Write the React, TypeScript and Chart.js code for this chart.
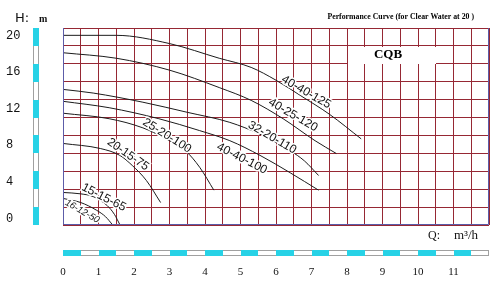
import React, { useEffect, useRef } from "react";
import { Chart, registerables } from "chart.js";

Chart.register(...registerables);

// ---- data (Q in m3/h, H in m) ----
const models = ["40-40-125", "40-25-120", "32-20-110", "40-40-100", "25-20-100", "20-15-75", "15-15-65", "16-12-50"];

const q_40_40_125 = [0, 1.5, 3, 4.4, 5.3, 6, 6.7, 7.5, 8.4];
const h_40_40_125 = [20, 20, 19.1, 17.5, 16.5, 15.1, 13.4, 11.4, 8.7];

const q_40_25_120 = [0, 1.5, 3, 4.4, 5.3, 6.2, 7.1, 7.7];
const h_40_25_120 = [18.1, 17.5, 16.2, 14.3, 12.9, 10.9, 8.5, 7.1];

const q_32_20_110 = [0, 0.85, 2.25, 3.5, 4.7, 5.55, 6.4, 6.8, 7.2];
const h_32_20_110 = [14.1, 13.7, 12.7, 11.6, 10.5, 9.2, 7.4, 6.3, 4.7];

const q_40_40_100 = [0, 1.3, 2.7, 3.85, 4.7, 5.55, 6.4, 7.2];
const h_40_40_100 = [12.8, 12.1, 10.9, 9.6, 8.5, 6.9, 5.0, 3.1];

const q_25_20_100 = [0, 1.3, 2.25, 2.85, 3.45, 3.85, 4.25];
const h_25_20_100 = [11.5, 10.9, 9.9, 8.8, 7.4, 5.6, 3.1];

const q_20_15_75 = [0, 1.05, 1.6, 1.95, 2.35, 2.75];
const h_20_15_75 = [8.2, 7.65, 6.9, 5.8, 4.15, 1.75];

const q_15_15_65 = [0, 0.5, 0.85, 1.25, 1.45, 1.6];
const h_15_15_65 = [2.85, 2.7, 2.4, 1.4, 0.45, -0.65];

const q_16_12_50 = [0, 0.5, 0.95, 1.2, 1.4];
const h_16_12_50 = [2.2, 1.75, 0.9, 0.2, -0.7];

const flowTicks = [0, 1, 2, 3, 4, 5, 6, 7, 8, 9, 10, 11];
const headTicks = [0, 4, 8, 12, 16, 20];

// label anchors in data coordinates (Q, H) and rotation
const labelQ = [6.85, 6.48, 5.89, 5.04, 2.93, 1.83, 1.15, 0.54];
const labelH = [13.8, 11.3, 8.85, 6.55, 9.05, 7.0, 2.3, 0.78];
const labelAngle = [30, 30, 30, 27, 32, 35, 27, 30];

const chartTitle = "Performance Curve (for Clear Water at 20 )";
const brand = "CQB";
const yUnit = ["H:", "m"];
const xUnit = ["Q:", "m³/h"];

const GRID = "rgb(150,40,52)";
const BORDER = "#5c5ca8";
const CYAN = "#27d2e6";
const CURVE = "#1c1c1c";

const series = [
  [q_40_40_125, h_40_40_125],
  [q_40_25_120, h_40_25_120],
  [q_32_20_110, h_32_20_110],
  [q_40_40_100, h_40_40_100],
  [q_25_20_100, h_25_20_100],
  [q_20_15_75, h_20_15_75],
  [q_15_15_65, h_15_15_65],
  [q_16_12_50, h_16_12_50],
];

const decor = {
  id: "decor",
  beforeDatasetsDraw(chart: any) {
    const { ctx, scales } = chart;
    const xs = scales.x;
    const yg = scales.yg;
    // white box behind brand name
    const x0 = Math.round(xs.getPixelForValue(8)) + 1;
    const x1 = Math.round(xs.getPixelForValue(10.5));
    const y0 = Math.round(yg.getPixelForValue(10)) + 1;
    const y1 = Math.round(yg.getPixelForValue(9));
    ctx.save();
    ctx.fillStyle = "#fff";
    ctx.fillRect(x0, y0, x1 - x0, y1 - y0);
    ctx.restore();
  },
  afterDatasetsDraw(chart: any) {
    const { ctx, scales, chartArea } = chart;
    const xs = scales.x;
    const ys = scales.y;
    const yg = scales.yg;
    const L = Math.round(chartArea.left) + 0.5;
    const R = Math.round(chartArea.right) - 0.5;
    const B = Math.round(chartArea.bottom) - 0.5;
    const T = Math.round(chartArea.top);
    ctx.save();

    // curve labels
    models.forEach((name, i) => {
      const px = xs.getPixelForValue(labelQ[i]);
      const py = ys.getPixelForValue(labelH[i]);
      ctx.save();
      ctx.translate(px, py);
      ctx.rotate((labelAngle[i] * Math.PI) / 180);
      ctx.font = i === 7 ? "italic 9.5px 'Liberation Sans'" : "12px 'Liberation Sans'";
      ctx.textAlign = "center";
      ctx.textBaseline = "middle";
      ctx.lineWidth = 3;
      ctx.strokeStyle = "#fff";
      ctx.strokeText(name, 0, 0);
      ctx.fillStyle = "#111";
      ctx.fillText(name, 0, 0);
      ctx.restore();
    });

    // border (left, bottom, right)
    ctx.strokeStyle = BORDER;
    ctx.lineWidth = 1;
    ctx.beginPath();
    ctx.moveTo(L, T);
    ctx.lineTo(L, B);
    ctx.lineTo(R, B);
    ctx.lineTo(R, T);
    ctx.stroke();

    // left ruler
    const rx = Math.round(chartArea.left) - 30;
    const rw = 6;
    ctx.strokeStyle = "#a0a0a0";
    ctx.strokeRect(rx + 0.5, T + 0.5, rw - 1, Math.round(chartArea.bottom) - T - 1);
    ctx.fillStyle = CYAN;
    for (let i = 0; i < 11; i++) {
      if (i % 2 === 0) {
        const a = Math.round(yg.getPixelForValue(11 - i));
        const b = Math.round(yg.getPixelForValue(10 - i));
        ctx.fillRect(rx, a, rw, b - a);
      }
    }

    // bottom ruler
    const by = Math.round(chartArea.bottom) + 25;
    const bh = 6;
    ctx.strokeStyle = "#a0a0a0";
    ctx.strokeRect(Math.round(chartArea.left) + 0.5, by + 0.5, Math.round(chartArea.right) - Math.round(chartArea.left) - 1, bh - 1);
    ctx.fillStyle = CYAN;
    for (let j = 0; j < 24; j++) {
      if (j % 2 === 0) {
        const a = Math.round(xs.getPixelForValue(j * 0.5));
        const b = Math.round(xs.getPixelForValue((j + 1) * 0.5));
        ctx.fillRect(a, by, b - a, bh);
      }
    }

    // texts
    ctx.fillStyle = "#111";
    ctx.textBaseline = "alphabetic";
    ctx.textAlign = "left";
    ctx.font = "13px 'DejaVu Sans'";
    ctx.fillText(yUnit[0], 15, 22);
    ctx.font = "bold 10px 'Liberation Serif'";
    ctx.fillText(yUnit[1], 39, 22);

    ctx.font = "12px 'Liberation Serif'";
    ctx.fillText(xUnit[0], 428, 239);
    ctx.font = "13px 'Liberation Serif'";
    ctx.fillText(xUnit[1], 454, 239);

    ctx.textAlign = "right";
    ctx.fillStyle = "#000";
    ctx.font = "bold 7.8px 'Liberation Serif'";
    ctx.fillText(chartTitle, 474, 19);

    ctx.textAlign = "center";
    ctx.font = "bold 13px 'Liberation Serif'";
    ctx.fillText(brand, 388, 58);

    ctx.restore();
  },
};

export default function App() {
  const ref = useRef<HTMLCanvasElement>(null);
  useEffect(() => {
    const chart = new Chart(ref.current as HTMLCanvasElement, {
      type: "scatter",
      data: {
        datasets: series.map((s, i) => ({
          label: models[i],
          data: s[0].map((q, k) => ({ x: q, y: s[1][k] })),
          showLine: true,
          borderColor: CURVE,
          borderWidth: 1,
          pointRadius: 0,
          cubicInterpolationMode: "monotone",
          yAxisID: "y",
          xAxisID: "x",
        })),
      },
      options: {
        animation: false,
        responsive: false,
        devicePixelRatio: 1,
        events: [],
        layout: { padding: { left: 6, right: 15, top: 28, bottom: 0 } },
        plugins: {
          legend: { display: false },
          tooltip: { enabled: false },
          title: { display: false },
        },
        scales: {
          x: {
            type: "linear",
            position: "bottom",
            min: 0,
            max: 12,
            ticks: {
              stepSize: 0.5,
              autoSkip: false,
              maxRotation: 0,
              padding: 41,
              color: "#111",
              font: { family: "'Liberation Serif'", size: 11 },
              callback: (v: any) => (flowTicks.includes(v) ? String(v) : ""),
            },
            grid: { color: GRID, lineWidth: 1, drawTicks: false },
            border: { display: false },
            afterFit: (s: any) => {
              s.height = 59;
              s.paddingLeft = 0;
              s.paddingRight = 0;
            },
          },
          yg: {
            type: "linear",
            position: "left",
            min: 0,
            max: 11,
            ticks: { display: false, stepSize: 1 },
            grid: { color: GRID, lineWidth: 1, drawTicks: false },
            border: { display: false },
            afterFit: (s: any) => {
              s.width = 0;
              s.paddingTop = 0;
              s.paddingBottom = 0;
            },
          },
          y: {
            type: "linear",
            position: "left",
            min: -0.7,
            max: 20.8,
            afterBuildTicks: (s: any) => {
              s.ticks = headTicks.map((v) => ({ value: v }));
            },
            ticks: {
              padding: 0,
              crossAlign: "far",
              color: "#111",
              font: { family: "'Liberation Mono'", size: 12 },
            },
            grid: { display: false, drawTicks: false },
            border: { display: false },
            afterFit: (s: any) => {
              s.width = 57;
              s.paddingTop = 0;
              s.paddingBottom = 0;
            },
          },
        },
      } as any,
      plugins: [decor],
    });
    return () => chart.destroy();
  }, []);
  return (
    <div style={{ position: "absolute", left: 0, top: 0, width: 504, height: 284, background: "#fff" }}>
      <canvas ref={ref} width={504} height={284} style={{ display: "block", width: 504, height: 284 }} />
    </div>
  );
}
